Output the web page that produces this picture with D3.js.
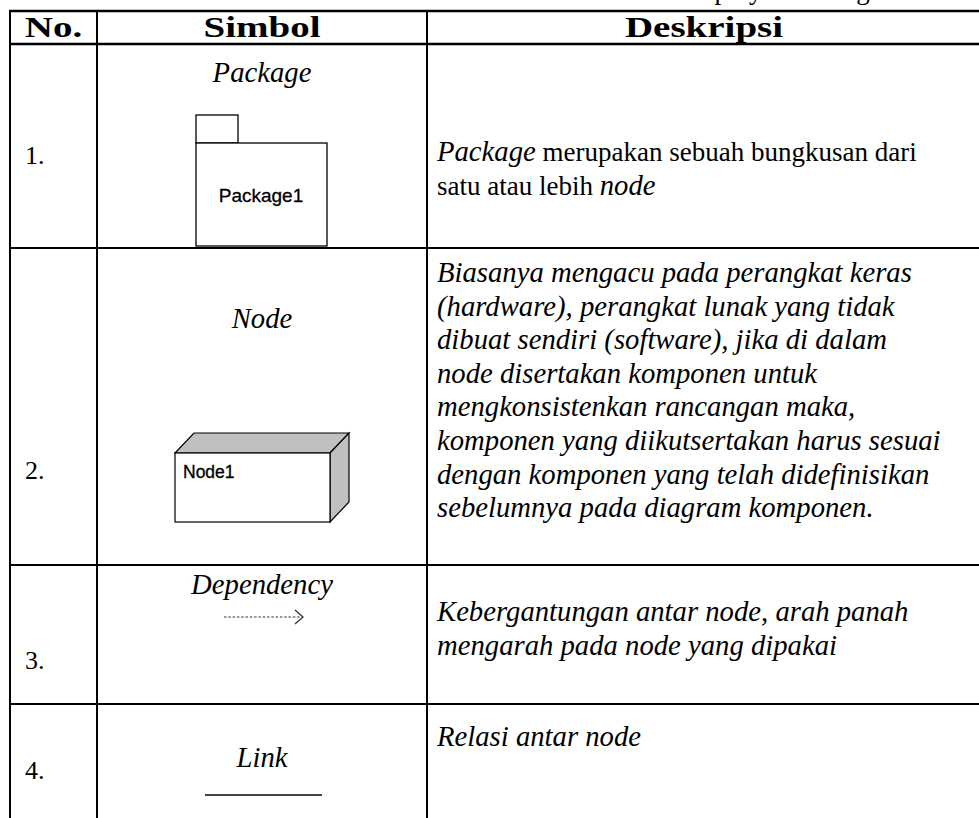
<!DOCTYPE html>
<html><head><meta charset="utf-8">
<script src="https://cdn.jsdelivr.net/npm/d3@7"></script>
<style>html,body{margin:0;padding:0;background:#fff;overflow:hidden}</style>
</head><body>
<script>
// ---- data ----
const headers = ["No.", "Simbol", "Deskripsi"];
const rowNumbers = ["1.", "2.", "3.", "4."];
const symbolNames = ["Package", "Node", "Dependency", "Link"];
const symbolKinds = ["package", "node", "dependency", "link"];
const symbolCaptions = ["Package1", "Node1", "", ""];
const descriptions = [
  [[["Package", true], [" merupakan sebuah bungkusan dari", false]],
   [["satu atau lebih ", false], ["node", true]]],
  [[["Biasanya mengacu pada perangkat keras", true]],
   [["(hardware), perangkat lunak yang tidak", true]],
   [["dibuat sendiri (software), jika di dalam", true]],
   [["node disertakan komponen untuk", true]],
   [["mengkonsistenkan rancangan maka,", true]],
   [["komponen yang diikutsertakan harus sesuai", true]],
   [["dengan komponen yang telah didefinisikan", true]],
   [["sebelumnya pada diagram komponen.", true]]],
  [[["Kebergantungan antar node, arah panah", true]],
   [["mengarah pada node yang dipakai", true]]],
  [[["Relasi antar node", true]]]
];
const captionPrefix = "Tabel 2.4 Simbol-simbol";
const captionTail = "deployment diagram";

// ---- layout ----
const W = 979, H = 818;
const colEdges = [10, 97, 427, 981];
const rowEdges = [11, 44, 248, 565, 704, 830];
const serif = "'Liberation Serif','Times New Roman',serif";
const sans = "'Liberation Sans',Arial,sans-serif";
const fsBody = 27, fsItal = 28.7, fsSym = 28.7, fsNum = 26;

const svg = d3.select("body").append("svg").attr("width", W).attr("height", H);
const colMid = i => (colEdges[i] + colEdges[i + 1]) / 2;

// caption (only its descenders show above the table, as in the source)
svg.append("text").attr("x", 680).attr("y", -1).attr("text-anchor", "end")
  .style("font-family", serif).style("font-size", "27px").text(captionPrefix);
svg.append("text").attr("x", 689).attr("y", -1)
  .style("font-family", serif).style("font-size", "27px").text(captionTail);

// grid lines
const g = svg.append("g").attr("stroke", "#000");
rowEdges.slice(0, 5).forEach((y, i) => {
  g.append("line").attr("x1", colEdges[0] - 1).attr("x2", W).attr("y1", y).attr("y2", y)
    .attr("stroke-width", i < 2 ? 2.4 : 2);
});
colEdges.slice(0, 3).forEach(cx => {
  g.append("line").attr("x1", cx).attr("x2", cx).attr("y1", rowEdges[0]).attr("y2", H)
    .attr("stroke-width", 2);
});

// header
svg.selectAll("text.hdr").data(headers).join("text").attr("class", "hdr")
  .attr("transform", (d, i) => `translate(${colMid(i)},37) scale(1.3,1)`)
  .attr("text-anchor", "middle")
  .style("font-family", serif).style("font-weight", "bold").style("font-size", "30px")
  .text(d => d);

// row numbers
const numY = [164, 479, 669, 779];
svg.selectAll("text.num").data(rowNumbers).join("text").attr("class", "num")
  .attr("x", 25).attr("y", (d, i) => numY[i])
  .style("font-family", serif).style("font-size", fsNum + "px").text(d => d);

// symbol names
const nameY = [82, 328, 594, 767];
svg.selectAll("text.sym").data(symbolNames).join("text").attr("class", "sym")
  .attr("x", colMid(1)).attr("y", (d, i) => nameY[i]).attr("text-anchor", "middle")
  .style("font-family", serif).style("font-style", "italic").style("font-size", fsSym + "px")
  .text(d => d);

// symbols
symbolKinds.forEach((k, i) => {
  const s = svg.append("g");
  if (k === "package") {
    s.append("rect").attr("x", 196).attr("y", 115).attr("width", 42).attr("height", 28)
      .attr("fill", "#fff").attr("stroke", "#000").attr("stroke-width", 1.3);
    s.append("rect").attr("x", 196).attr("y", 143).attr("width", 131).attr("height", 103)
      .attr("fill", "#fff").attr("stroke", "#000").attr("stroke-width", 1.3);
    s.append("text").attr("x", 261).attr("y", 202).attr("text-anchor", "middle")
      .style("font-family", sans).style("font-size", "19px")
      .attr("stroke", "#000").attr("stroke-width", 0.3).text(symbolCaptions[i]);
  } else if (k === "node") {
    const fx = 175, fy = 453, fw = 155, fh = 69, dx = 19, dy = 20;
    s.append("path").attr("d", `M${fx},${fy}L${fx + dx},${fy - dy}L${fx + fw + dx},${fy - dy}L${fx + fw},${fy}Z`)
      .attr("fill", "#c0c0c0").attr("stroke", "#000").attr("stroke-width", 1.2);
    s.append("path").attr("d", `M${fx + fw},${fy}L${fx + fw + dx},${fy - dy}L${fx + fw + dx},${fy + fh - dy}L${fx + fw},${fy + fh}Z`)
      .attr("fill", "#c0c0c0").attr("stroke", "#000").attr("stroke-width", 1.2);
    s.append("rect").attr("x", fx).attr("y", fy).attr("width", fw).attr("height", fh)
      .attr("fill", "#fff").attr("stroke", "#000").attr("stroke-width", 1.2);
    s.append("text").attr("x", fx + 8).attr("y", 478)
      .style("font-family", sans).style("font-size", "17.5px")
      .attr("stroke", "#000").attr("stroke-width", 0.3).text(symbolCaptions[i]);
  } else if (k === "dependency") {
    s.append("line").attr("x1", 224).attr("x2", 301).attr("y1", 617).attr("y2", 617)
      .attr("stroke", "#333").attr("stroke-width", 1.2).attr("stroke-dasharray", "2.5,1.8");
    s.append("path").attr("d", "M295,610L303,617L295,624")
      .attr("fill", "none").attr("stroke", "#333").attr("stroke-width", 1.3);
  } else if (k === "link") {
    s.append("line").attr("x1", 205).attr("x2", 322).attr("y1", 795).attr("y2", 795)
      .attr("stroke", "#444").attr("stroke-width", 2);
  }
});

// descriptions
const descY = [161, 282, 621, 746];
const lh = 33.6;
descriptions.forEach((lines, r) => {
  lines.forEach((parts, li) => {
    const t = svg.append("text").attr("x", 437).attr("y", descY[r] + li * lh)
      .style("font-family", serif);
    parts.forEach(([txt, it]) => {
      t.append("tspan").style("font-style", it ? "italic" : "normal")
        .style("font-size", (it ? fsItal : fsBody) + "px").text(txt);
    });
  });
});
</script>
</body></html>
